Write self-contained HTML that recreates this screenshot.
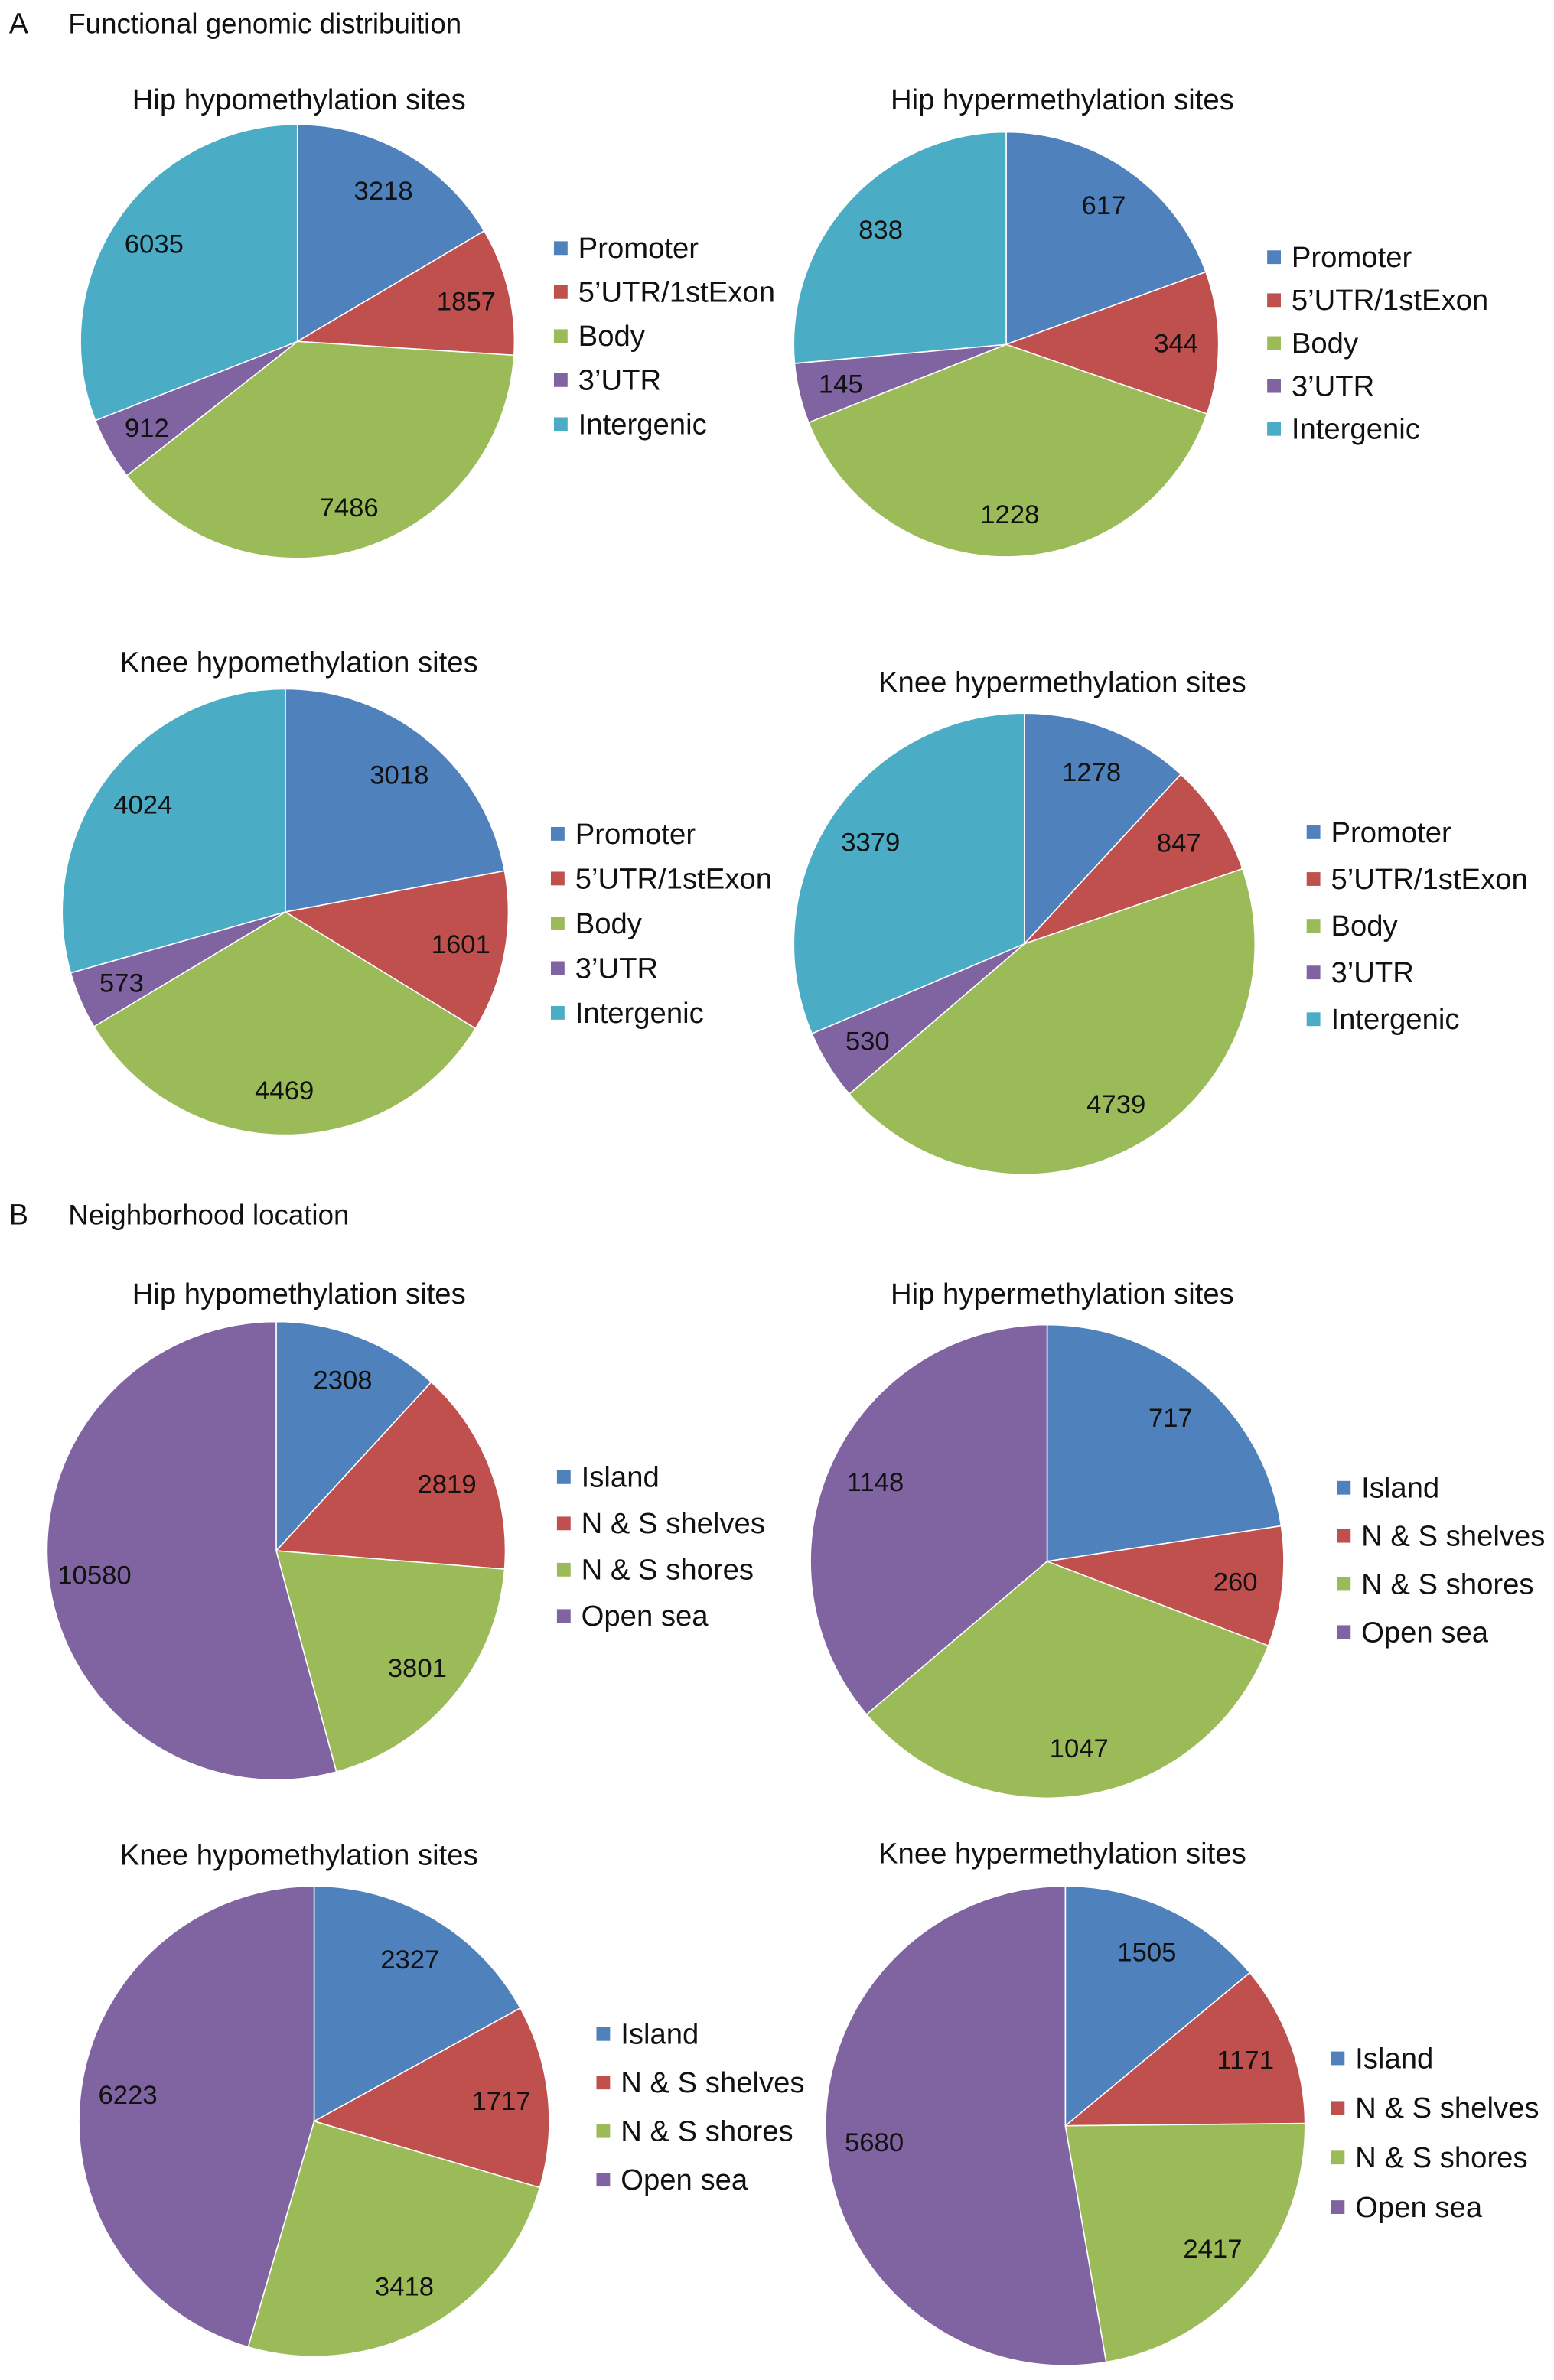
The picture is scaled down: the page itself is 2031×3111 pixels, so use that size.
<!DOCTYPE html>
<html><head><meta charset="utf-8"><style>
html,body{margin:0;padding:0;background:#fff}
svg{display:block}
text{font-family:"Liberation Sans",sans-serif;fill:#111}
</style></head><body>
<svg id="c" width="2031" height="3111" viewBox="0 0 1024 1568.5" xmlns="http://www.w3.org/2000/svg">
<text x="6" y="22" font-size="19">A</text>
<text x="45" y="22" font-size="18.5">Functional genomic distribuition</text>
<text x="6" y="807" font-size="19">B</text>
<text x="45" y="807" font-size="18.5">Neighborhood location</text>
</svg>
<script>
const funcCategories=["Promoter","5'UTR/1stExon","Body","3'UTR","Intergenic"];
const neighCategories=["Island","N & S shelves","N & S shores","Open sea"];
const funcColors=["#4F81BD","#C0504D","#9BBB59","#8064A2","#4BACC6"];
const neighColors=["#4F81BD","#C0504D","#9BBB59","#8064A2"];
const titles=["Hip hypomethylation sites","Hip hypermethylation sites","Knee hypomethylation sites","Knee hypermethylation sites","Hip hypomethylation sites","Hip hypermethylation sites","Knee hypomethylation sites","Knee hypermethylation sites"];
const hipHypoFunc=[3218,1857,7486,912,6035];
const hipHyperFunc=[617,344,1228,145,838];
const kneeHypoFunc=[3018,1601,4469,573,4024];
const kneeHyperFunc=[1278,847,4739,530,3379];
const hipHypoNeigh=[2308,2819,3801,10580];
const hipHyperNeigh=[717,260,1047,1148];
const kneeHypoNeigh=[2327,1717,3418,6223];
const kneeHyperNeigh=[1505,1171,2417,5680];
const seriesList=[hipHypoFunc,hipHyperFunc,kneeHypoFunc,kneeHyperFunc,hipHypoNeigh,hipHyperNeigh,kneeHypoNeigh,kneeHyperNeigh];
const layout=[
[196,225,143,197,72,368,164,29],
[663,227,140,700,72,838,170,28.3],
[188,601,147,197,443,366,550,29.5],
[675,622,152,700,456,864,549,30.8],
[182,1022,151,197,859,370,974,30.5],
[690,1029,156,700,859,884,981,31.7],
[207,1398,155,197,1229,396,1341,32],
[702,1401,158,700,1228,880,1357,32.7]];
const svg=document.getElementById('c');
const NS="http://www.w3.org/2000/svg";
function mk(t,a){const e=document.createElementNS(NS,t);for(const k in a)e.setAttribute(k,a[k]);return e;}
seriesList.forEach((vals,i)=>{
  const [cx,cy,r,tx,ty,lx,ly,ls]=layout[i];
  const cats=i<4?funcCategories:neighCategories;
  const cols=i<4?funcColors:neighColors;
  const g=mk('g',{});
  
  
  svg.appendChild(g);
  const t=mk('text',{x:tx,y:ty,'font-size':19.3,'text-anchor':'middle'});
  
  
  t.textContent=titles[i];g.appendChild(t);
  const total=vals.reduce((a,b)=>a+b,0);
  let acc=0;
  vals.forEach((v,j)=>{
    const a0=acc/total*2*Math.PI;acc+=v;const a1=acc/total*2*Math.PI;
    const x0=cx+r*Math.sin(a0),y0=cy-r*Math.cos(a0),x1=cx+r*Math.sin(a1),y1=cy-r*Math.cos(a1);
    const large=(a1-a0)>Math.PI?1:0;
    const p=mk('path',{d:`M${cx},${cy}L${x0},${y0}A${r},${r} 0 ${large} 1 ${x1},${y1}Z`,fill:cols[j],stroke:'#fff','stroke-width':0.8});
    
    
    g.appendChild(p);
    const am=(a0+a1)/2;
    const lab=mk('text',{x:cx+0.8*r*Math.sin(am),y:cy-0.8*r*Math.cos(am)+6,'font-size':17.5,'text-anchor':'middle'});
    
    
    lab.textContent=v;g.appendChild(lab);
  });
  cats.forEach((c,j)=>{
    const y=ly+j*ls;
    const sq=mk('rect',{x:lx-3,y:y-5,width:9,height:9,fill:cols[j]});
    
    
    g.appendChild(sq);
    const lt=mk('text',{x:lx+13,y:y+6,'font-size':19.3});
    
    
    lt.textContent=c.replace("'","’");g.appendChild(lt);
  });
});
</script>
</body></html>
